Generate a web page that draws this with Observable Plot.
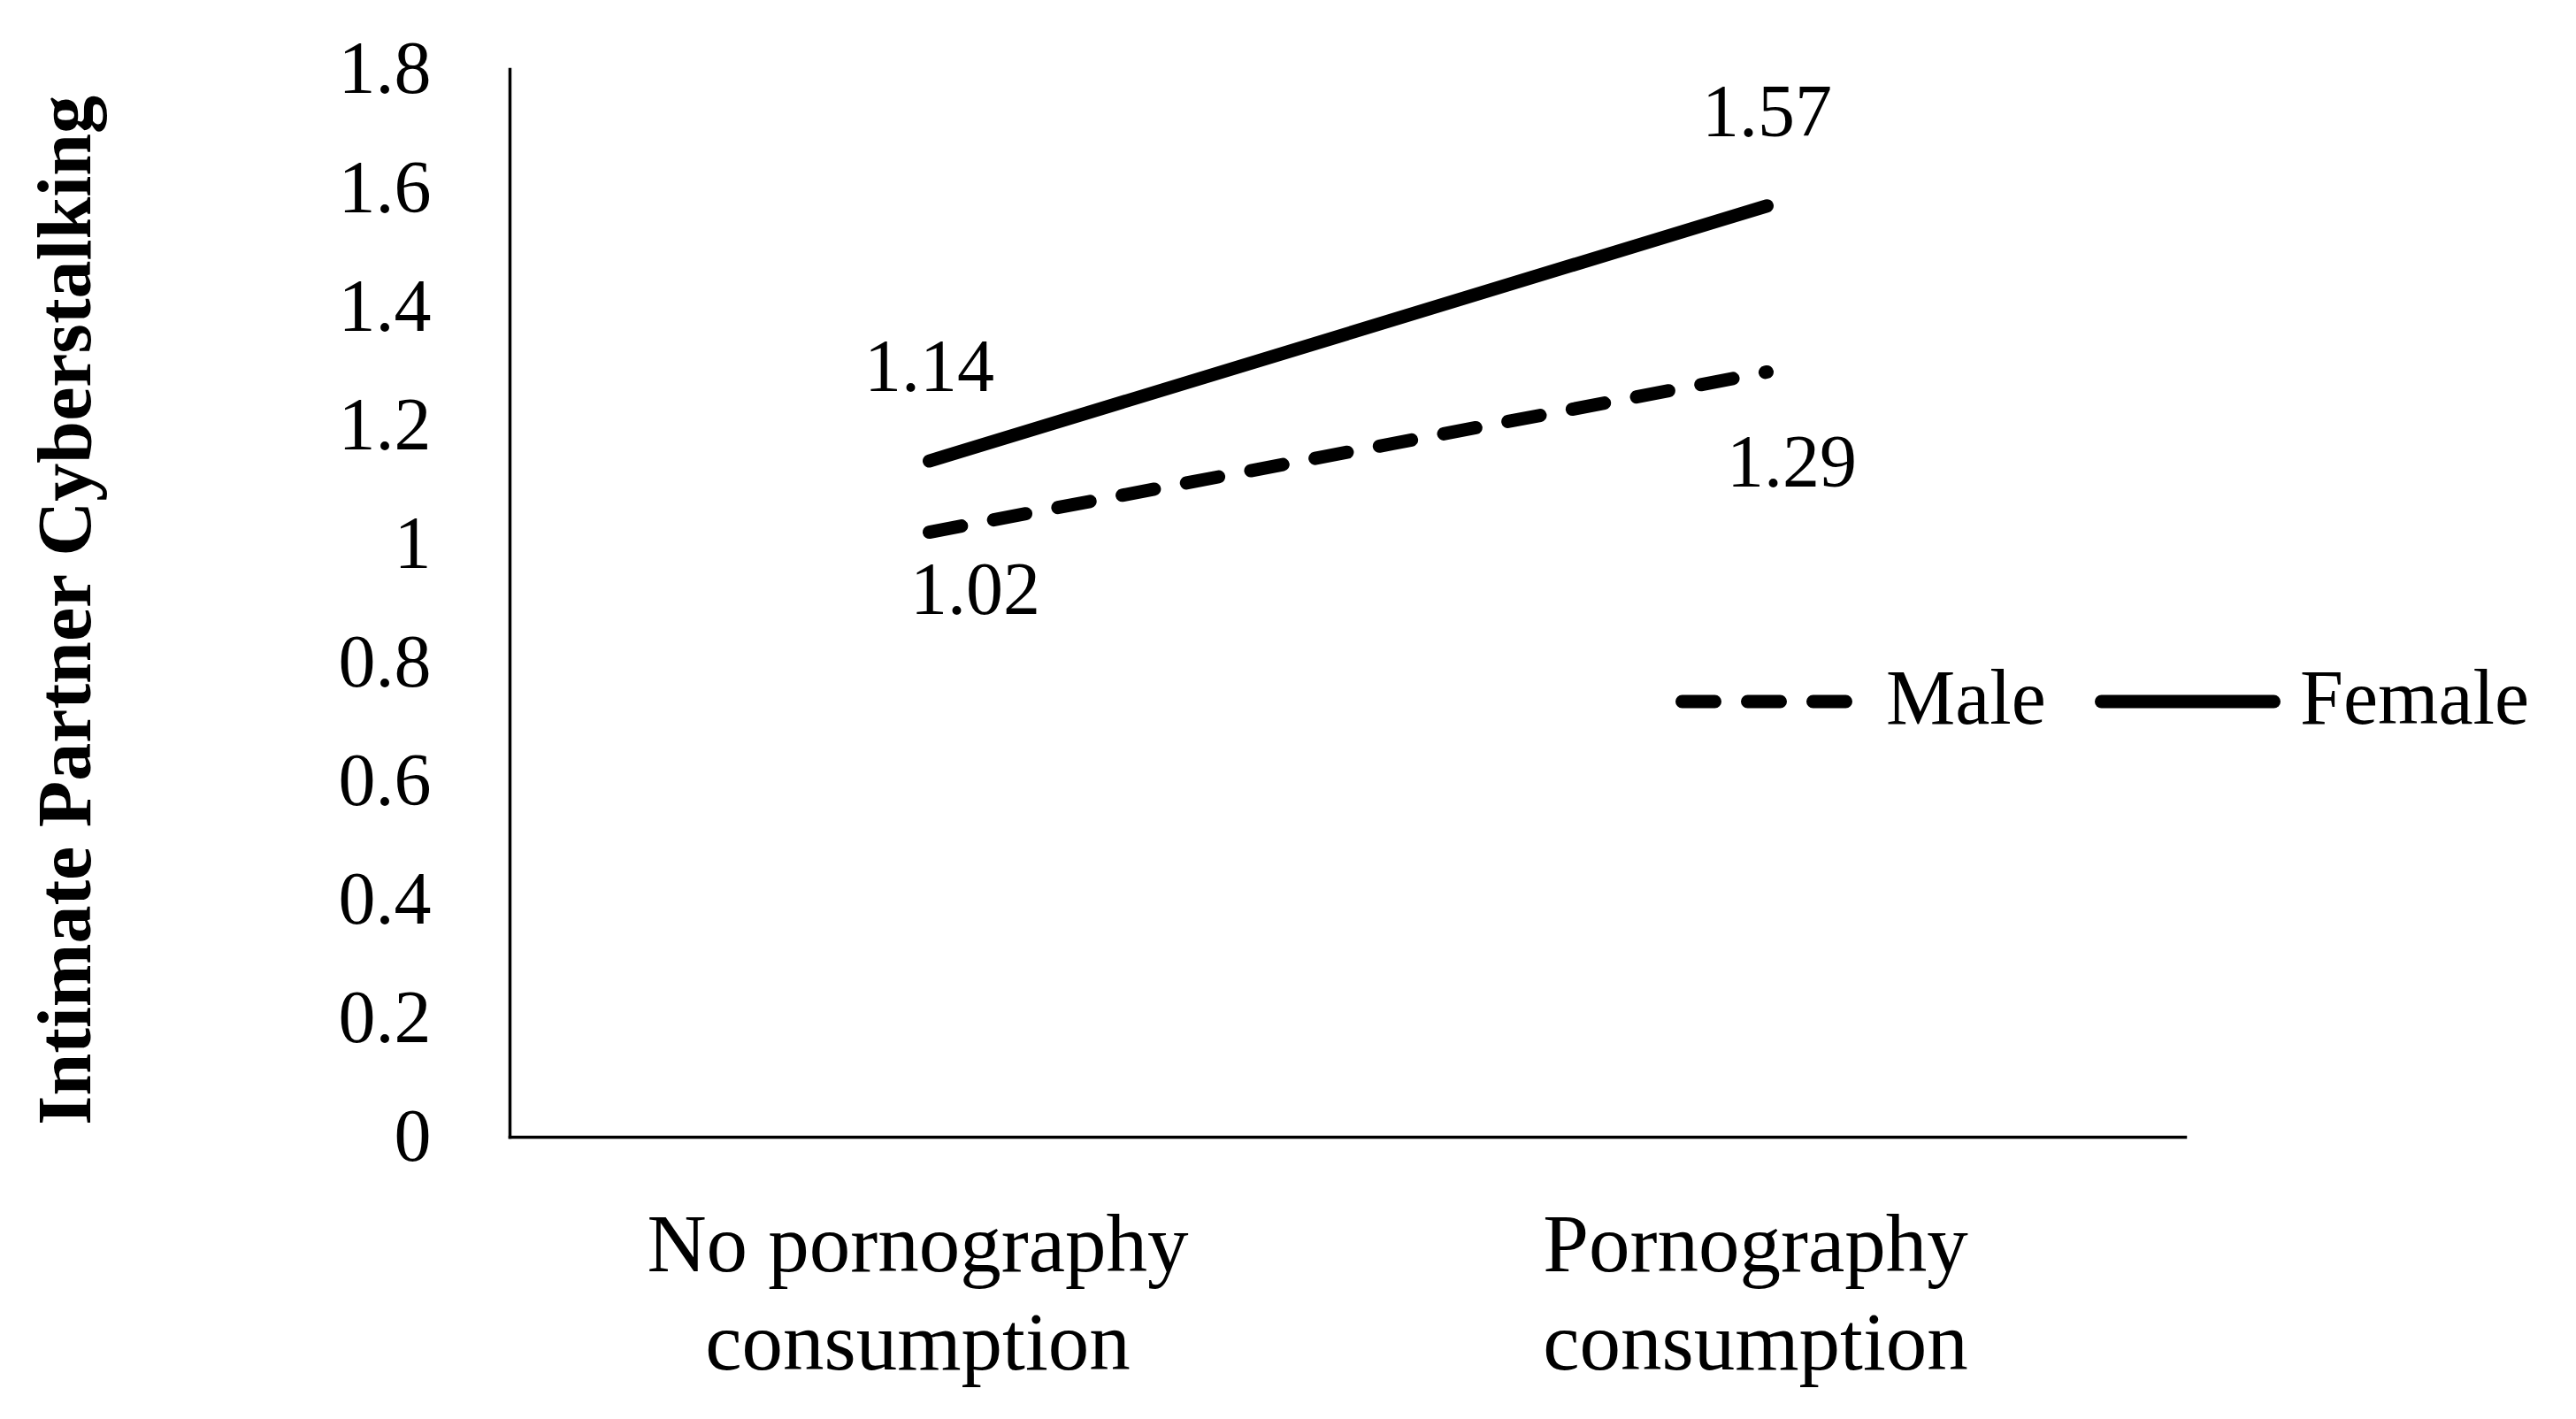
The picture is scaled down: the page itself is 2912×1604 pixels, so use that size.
<!DOCTYPE html>
<html>
<head>
<meta charset="utf-8">
<script src="https://cdn.jsdelivr.net/npm/d3@7"></script>
<script src="https://cdn.jsdelivr.net/npm/@observablehq/plot@0.6"></script>
<style>
  html, body { margin: 0; padding: 0; background: #fff; }
  #wrap { position: relative; width: 2912px; height: 1604px; font-family: "Liberation Serif", serif; color: #000; }
  #legend { position: absolute; left: 0; top: 0; }
  .leg-text { font-size: 88px; line-height: 1; white-space: nowrap; }
</style>
</head>
<body>
<div id="wrap"><div id="legend"></div></div>
<script>
// ---- data ----
const categories = ["No pornography consumption", "Pornography consumption"];
const categoryLabels = ["No pornography\nconsumption", "Pornography\nconsumption"];
const series = ["Male", "Female"];
const maleValues = [1.02, 1.29];
const femaleValues = [1.14, 1.57];
const yTicks = [0, 0.2, 0.4, 0.6, 0.8, 1, 1.2, 1.4, 1.6, 1.8];
const yTitle = "Intimate Partner Cyberstalking";

const maleRows = categories.map((c, i) => ({category: c, value: maleValues[i], series: "Male"}));
const femaleRows = categories.map((c, i) => ({category: c, value: femaleValues[i], series: "Female"}));

const FS = 84;
const chart = Plot.plot({
  width: 2912,
  height: 1604,
  marginLeft: 576,
  marginRight: 442,
  marginTop: 78,
  marginBottom: 319,
  style: {fontFamily: "'Liberation Serif', serif", fontSize: FS + "px", color: "#000", background: "#fff", overflow: "visible"},
  x: {type: "point", domain: categories, padding: 0.5},
  y: {domain: [0, 1.8]},
  marks: [
    Plot.frame({anchor: "left", stroke: "#000", strokeWidth: 3.5}),
    Plot.frame({anchor: "bottom", stroke: "#000", strokeWidth: 3.5}),
    Plot.axisY(yTicks, {tickSize: 0, tickPadding: 89, fontSize: FS, label: null,
      tickFormat: d => String(+d.toFixed(1))}),
    Plot.axisX({tickSize: 0, tickPadding: 72, fontSize: 93, label: null, lineHeight: 1.2, dx: -13,
      tickFormat: d => categoryLabels[categories.indexOf(d)]}),
    Plot.line(maleRows, {x: "category", y: "value", stroke: "#000", strokeWidth: 15,
      strokeDasharray: "37,37", strokeLinecap: "round"}),
    Plot.line(femaleRows, {x: "category", y: "value", stroke: "#000", strokeWidth: 15,
      strokeLinecap: "round"}),
    // data labels
    Plot.text(femaleRows, {x: "category", y: "value", text: d => d.value.toFixed(2),
      dy: -106, fontSize: FS, fill: "#000"}),
    Plot.text(maleRows.slice(0, 1), {x: "category", y: "value", text: d => d.value.toFixed(2),
      dx: 52, dy: 66, fontSize: FS, fill: "#000"}),
    Plot.text(maleRows.slice(1), {x: "category", y: "value", text: d => d.value.toFixed(2),
      dx: 28, dy: 103, fontSize: FS, fill: "#000"}),
    // y title
    Plot.text([yTitle], {frameAnchor: "left", textAnchor: "middle", rotate: -90, dx: -502, dy: 8,
      fontSize: 86, fontWeight: "bold", fill: "#000"})
  ]
});
document.getElementById("wrap").prepend(chart);

// ---- legend ----
const legendPos = {
  Male: {line: [1894, 2095], text: 2132, dash: "37,37"},
  Female: {line: [2368, 2578], text: 2600, dash: null}
};
const legendY = 793;
const leg = d3.select("#legend");
series.forEach(s => {
  const p = legendPos[s];
  const w = p.line[1] - p.line[0];
  const svg = leg.append("svg")
    .attr("width", w).attr("height", 30)
    .style("position", "absolute")
    .style("left", p.line[0] + "px")
    .style("top", (legendY - 15) + "px");
  svg.append("line")
    .attr("x1", 7.5).attr("x2", w - 7.5).attr("y1", 15).attr("y2", 15)
    .attr("stroke", "#000").attr("stroke-width", 15).attr("stroke-linecap", "round")
    .attr("stroke-dasharray", p.dash);
  leg.append("div")
    .attr("class", "leg-text")
    .style("position", "absolute")
    .style("left", p.text + "px")
    .style("top", (legendY - 48) + "px")
    .text(s);
});
</script>
</body>
</html>
